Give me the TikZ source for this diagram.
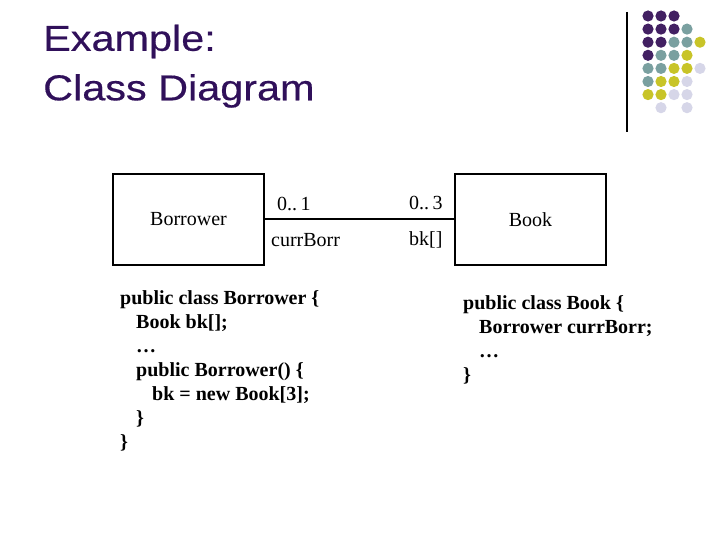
\documentclass[tikz,border=0pt]{standalone}
\usepackage{fontspec}
\setmainfont{Liberation Serif}
\newfontfamily\titlefont[FakeStretch=1.15,FakeBold=0.4]{Liberation Sans}
\usetikzlibrary{positioning}
\definecolor{titlepurple}{RGB}{48,16,90}
\definecolor{dotpurple}{RGB}{66,32,98}
\definecolor{dotteal}{RGB}{122,160,160}
\definecolor{dotyellow}{RGB}{200,196,40}
\definecolor{dotlavender}{RGB}{214,214,232}
\newcommand{\classfontsize}[0]{\fontsize{20bp}{24bp}\selectfont}
\newcommand{\codefontsize}[0]{\fontsize{20bp}{24bp}\selectfont\bfseries}

\begin{document}
\begin{tikzpicture}[x=1bp, y=-1bp]
    \useasboundingbox (0,0) rectangle (720,540);
    % title
    \node[anchor=north west, inner sep=0, text=titlepurple, align=left,
        font=\titlefont\fontsize{36bp}{49.5bp}\selectfont]
        (title) at (43,24.5) {Example:\\Class Diagram};
    % corner decoration
    \draw[line width=1.2bp] (627,12) -- (627,132);
    \foreach \row/\col/\dotcolor in {0/0/dotpurple,0/1/dotpurple,0/2/dotpurple,
        1/0/dotpurple,1/1/dotpurple,1/2/dotpurple,1/3/dotteal,
        2/0/dotpurple,2/1/dotpurple,2/2/dotteal,2/3/dotteal,2/4/dotyellow,
        3/0/dotpurple,3/1/dotteal,3/2/dotteal,3/3/dotyellow,
        4/0/dotteal,4/1/dotteal,4/2/dotyellow,4/3/dotyellow,4/4/dotlavender,
        5/0/dotteal,5/1/dotyellow,5/2/dotyellow,5/3/dotlavender,
        6/0/dotyellow,6/1/dotyellow,6/2/dotlavender,6/3/dotlavender,
        7/1/dotlavender,7/3/dotlavender}
        \fill[\dotcolor] (648+13*\col,16+13.1*\row) circle (5.6);
    % classes
    \node[rectangle, draw=black, line width=2bp, minimum width=151bp, minimum height=91bp,
        font=\classfontsize]
        (borrower) at (188.5,219.5) {Borrower};
    \node[rectangle, draw=black, line width=2bp, minimum width=151bp, minimum height=91bp,
        font=\classfontsize, right=189bp of borrower]
        (book) {Book};
    \draw[line width=2bp] (borrower.east) -- (book.west);
    % association ends
    \node[font=\classfontsize, anchor=west, inner sep=0] (mult-borrower) at (277,204) {0..\,1};
    \node[font=\classfontsize, anchor=west, inner sep=0] (role-borrower) at (271,240) {currBorr};
    \node[font=\classfontsize, anchor=west, inner sep=0] (mult-book) at (409,203) {0..\,3};
    \node[font=\classfontsize, anchor=west, inner sep=0] (role-book) at (409,240) {bk[]};
    % code
    \node[anchor=north west, inner sep=0, align=left, font=\codefontsize]
        (borrower-code) at (120,290) {public class Borrower \{\\
        \hspace*{16bp}Book bk[];\\
        \hspace*{16bp}…\\
        \hspace*{16bp}public Borrower() \{\\
        \hspace*{32bp}bk = new Book[3];\\
        \hspace*{16bp}\}\\
        \}};
    \node[anchor=north west, inner sep=0, align=left, font=\codefontsize]
        (book-code) at (463,295) {public class Book \{\\
        \hspace*{16bp}Borrower currBorr;\\
        \hspace*{16bp}…\\
        \}};
\end{tikzpicture}
\end{document}
